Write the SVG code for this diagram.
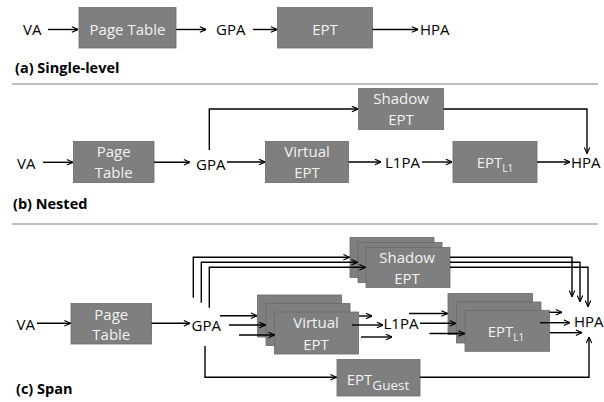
<svg xmlns="http://www.w3.org/2000/svg" width="604" height="402" viewBox="0 0 604 402">
<style>
.box{fill:#7f7f7f;stroke:#6a6a6a;stroke-width:0.8}
.bt{font-family:"Open Sans","Liberation Sans",sans-serif;font-size:15px;fill:#f2f2f2;text-anchor:middle}
.lb{font-family:"Open Sans","Liberation Sans",sans-serif;font-size:15px;fill:#000}
.cap{font-family:"Open Sans","Liberation Sans",sans-serif;font-size:14.5px;font-weight:bold;fill:#000}
.c{fill:none;stroke:#000;stroke-width:1.4}
.sep{stroke:#bfbfbf;stroke-width:2}
</style>
<defs>
<marker id="ah" viewBox="0 0 8 8" refX="7.5" refY="4" markerWidth="7" markerHeight="7" markerUnits="userSpaceOnUse" orient="auto">
<path d="M0.5,0.8 L7.5,4 L0.5,7.2" fill="none" stroke="#000" stroke-width="1.3"/>
</marker>
</defs>
<rect width="604" height="402" fill="#fff"/>
<line class="sep" x1="12" y1="84" x2="598" y2="84"/>
<line class="sep" x1="12" y1="224" x2="598" y2="224"/>

<!-- (a) -->
<g id="a-va"><text class="lb" x="23" y="34.5">VA</text></g>
<g id="a-pt"><rect class="box" x="79" y="7.5" width="97" height="40.5"/><text class="bt" x="127.5" y="34.5">Page Table</text></g>
<g id="a-gpa"><text class="lb" x="216" y="34.5">GPA</text></g>
<g id="a-ept"><rect class="box" x="277.5" y="7.5" width="95" height="40.5"/><text class="bt" x="325" y="34.5">EPT</text></g>
<g id="a-hpa"><text class="lb" x="420" y="34.5">HPA</text></g>
<g id="a-cap"><text class="cap" x="15" y="73">(a) Single-level</text></g>

<!-- (b) -->
<g id="b-va"><text class="lb" x="17" y="169">VA</text></g>
<g id="b-pt"><rect class="box" x="73.5" y="141.5" width="80.5" height="41"/><text class="bt" x="113.7" y="157">Page</text><text class="bt" x="113.7" y="178">Table</text></g>
<g id="b-gpa"><text class="lb" x="196" y="170">GPA</text></g>
<g id="b-shadow"><rect class="box" x="358.5" y="88.5" width="85" height="41"/><text class="bt" x="401" y="104">Shadow</text><text class="bt" x="401" y="125">EPT</text></g>
<g id="b-vept"><rect class="box" x="265.5" y="141.5" width="83" height="41"/><text class="bt" x="307" y="157">Virtual</text><text class="bt" x="307" y="178">EPT</text></g>
<g id="b-l1pa"><text class="lb" x="385" y="168">L1PA</text></g>
<g id="b-eptl1"><rect class="box" x="453" y="141.5" width="84" height="41"/><text class="bt" x="495" y="168">EPT<tspan font-size="10" dy="4">L1</tspan></text></g>
<g id="b-hpa"><text class="lb" x="571" y="168">HPA</text></g>
<g id="b-cap"><text class="cap" x="13" y="209">(b) Nested</text></g>

<!-- (c) -->
<g id="c-va"><text class="lb" x="16.5" y="329.5" font-size="12.5">VA</text></g>
<g id="c-pt"><rect class="box" x="71" y="303.5" width="80.5" height="40.5"/><text class="bt" x="111.3" y="319.7">Page</text><text class="bt" x="111.3" y="340.4">Table</text></g>
<g id="c-gpa"><text class="lb" x="191.5" y="330.5">GPA</text></g>
<g id="c-shadow">
<rect class="box" x="350" y="237.5" width="84" height="40"/>
<rect class="box" x="358" y="242.5" width="84" height="40"/>
<rect class="box" x="366" y="247.5" width="84" height="40"/>
<text class="bt" x="407" y="263">Shadow</text><text class="bt" x="407" y="284">EPT</text>
</g>
<g id="c-vept">
<rect class="box" x="257.5" y="295" width="84" height="42"/>
<rect class="box" x="266" y="303.5" width="84" height="42"/>
<rect class="box" x="274.5" y="312" width="84" height="42"/>
<text class="bt" x="316" y="328">Virtual</text><text class="bt" x="316" y="349.5">EPT</text>
</g>
<g id="c-l1pa"><text class="lb" x="383.5" y="329">L1PA</text></g>
<g id="c-eptl1">
<rect class="box" x="448" y="293.5" width="84.5" height="41"/>
<rect class="box" x="456.5" y="302" width="84.5" height="41"/>
<rect class="box" x="465" y="310.3" width="84.5" height="41"/>
<text class="bt" x="506" y="336.5">EPT<tspan font-size="10" dy="4">L1</tspan></text>
</g>
<g id="c-hpa"><text class="lb" x="574" y="327" font-size="14">HPA</text></g>
<g id="c-guest"><rect class="box" x="337" y="359.5" width="83" height="36.5"/><text class="bt" x="378" y="384.5" font-size="14">EPT<tspan font-size="13.5" dy="5">Guest</tspan></text></g>
<g id="c-cap"><text class="cap" x="16" y="394">(c) Span</text></g>

<g id="connectors" class="c" marker-end="url(#ah)">
<!-- (a) -->
<path class="c" d="M48,29.5 H78" marker-end="url(#ah)"/>
<path class="c" d="M176,29.5 H206" marker-end="url(#ah)"/>
<path class="c" d="M253,29.5 H277" marker-end="url(#ah)"/>
<path class="c" d="M372.5,29.5 H418" marker-end="url(#ah)"/>
<!-- (b) -->
<path class="c" d="M43,162.3 H73" marker-end="url(#ah)"/>
<path class="c" d="M154,162.3 H190" marker-end="url(#ah)"/>
<path class="c" d="M227,162 H265" marker-end="url(#ah)"/>
<path class="c" d="M348.5,162 H381" marker-end="url(#ah)"/>
<path class="c" d="M422,162 H452" marker-end="url(#ah)"/>
<path class="c" d="M537,162 H570" marker-end="url(#ah)"/>
<path class="c" d="M209.3,150 V109 H358" marker-end="url(#ah)"/>
<path class="c" d="M443.5,109 H587 V153.5" marker-end="url(#ah)"/>
<!-- (c) -->
<path class="c" d="M37,323.3 H70.5" marker-end="url(#ah)"/>
<path class="c" d="M151.5,323.3 H190" marker-end="url(#ah)"/>
<path class="c" d="M193.3,297.7 V257.3 H349.5" marker-end="url(#ah)"/>
<path class="c" d="M201.3,302.7 V262.3 H357.5" marker-end="url(#ah)"/>
<path class="c" d="M209.3,307.7 V267.3 H365.5" marker-end="url(#ah)"/>
<path class="c" d="M450,257.3 H572 V296.7" marker-end="url(#ah)"/>
<path class="c" d="M450,262.3 H580 V301.7" marker-end="url(#ah)"/>
<path class="c" d="M450,267.3 H588 V306.7" marker-end="url(#ah)"/>
<path class="c" d="M220,315.7 H257" marker-end="url(#ah)"/>
<path class="c" d="M229,325 H265.5" marker-end="url(#ah)"/>
<path class="c" d="M239,335 H274.5" marker-end="url(#ah)"/>
<path class="c" d="M359,316 H372" marker-end="url(#ah)"/>
<path class="c" d="M352,325 H383" marker-end="url(#ah)"/>
<path class="c" d="M361,337 H392" marker-end="url(#ah)"/>
<path class="c" d="M409,313.5 H447.5" marker-end="url(#ah)"/>
<path class="c" d="M420,323.3 H456" marker-end="url(#ah)"/>
<path class="c" d="M429.5,333.5 H464.5" marker-end="url(#ah)"/>
<path class="c" d="M549.5,312.3 H562" marker-end="url(#ah)"/>
<path class="c" d="M540,322.7 H570" marker-end="url(#ah)"/>
<path class="c" d="M550,332.7 H582" marker-end="url(#ah)"/>
<path class="c" d="M205,346 V377.3 H336.5" marker-end="url(#ah)"/>
<path class="c" d="M420,377.3 H589 V337" marker-end="url(#ah)"/>
</g>
</svg>
